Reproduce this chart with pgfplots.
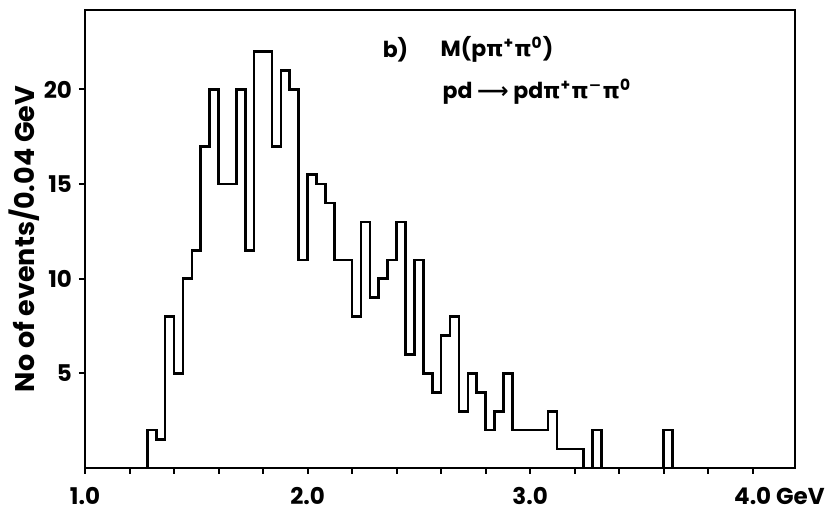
\documentclass[border=0pt]{standalone}
\usepackage{fontspec}
\setmainfont{Poppins}
\newfontfamily\grk{DejaVu Sans}
\usepackage{pgfplots}
\pgfplotsset{compat=1.18}
\usepackage{pgfplotstable}

% bin left edge, events per 0.04 GeV (first/last rows close the outline)
\pgfplotstableread{
x y
1.28 0
1.28 2
1.32 1.5
1.36 8
1.40 5
1.44 10
1.48 11.5
1.52 17
1.56 20
1.60 15
1.64 15
1.68 20
1.72 11.5
1.76 22
1.80 22
1.84 17
1.88 21
1.92 20
1.96 11
2.00 15.5
2.04 15
2.08 14
2.12 11
2.16 11
2.20 8
2.24 13
2.28 9
2.32 10
2.36 11
2.40 13
2.44 6
2.48 11
2.52 5
2.56 4
2.60 7
2.64 8
2.68 3
2.72 5
2.76 4
2.80 2
2.84 3
2.88 5
2.92 2
2.96 2
3.00 2
3.04 2
3.08 3
3.12 1
3.16 1
3.20 1
3.24 0
3.28 2
3.32 0
3.60 2
3.64 0
}\hist

\newcommand{\pip}{{\grk π}\textsuperscript{+}}
\newcommand{\pim}{{\grk π}\textsuperscript{\grk −}}
\newcommand{\piz}{{\grk π}\textsuperscript{0}}

\begin{document}
\begin{tikzpicture}
\begin{axis}[
  name=ax,
  scale only axis,
  width=355pt, height=229pt,
  xmin=1.0, xmax=4.19, ymin=0, ymax=24.2,
  axis line style={line width=1.1pt},
  xtick={1,2,3,4},
  xticklabels={1.0,2.0,3.0,4.0\rlap{ GeV}},
  minor x tick num=4,
  ytick={5,10,15,20},
  tick pos=left,
  tick align=outside,
  major tick length=3pt, minor tick length=3pt,
  tick style={line width=1pt, black},
  /pgf/number format/assume math mode=true,
  ticklabel style={font=\fontsize{11.5}{13}\selectfont\bfseries},
  x tick label style={yshift=-3pt},
  ylabel={No of events/0.04 GeV},
  ylabel style={font=\fontsize{13.5}{15}\selectfont\bfseries,
    at={(axis description cs:-0.086,0.5)}, anchor=center},
]
\addplot[const plot, line width=1.3pt, black] table[x=x, y=y] {\hist};
\node[font=\fontsize{11}{13}\selectfont\bfseries] at (axis cs:2.395,22.1) {b)};
\node[font=\fontsize{11}{13}\selectfont\bfseries, anchor=west, inner sep=0pt]
  at (axis cs:2.596,22.1) {M(p\pip\piz)};
\node[font=\fontsize{11}{13}\selectfont\bfseries, anchor=west, inner sep=0pt]
  at (axis cs:2.605,19.9) {pd {\grk ⟶} pd\pip\pim\piz};
\end{axis}
\path ([xshift=-42.5pt,yshift=-21.5pt]ax.south west)
  rectangle ([xshift=18pt,yshift=5pt]ax.north east);
\end{tikzpicture}
\end{document}
